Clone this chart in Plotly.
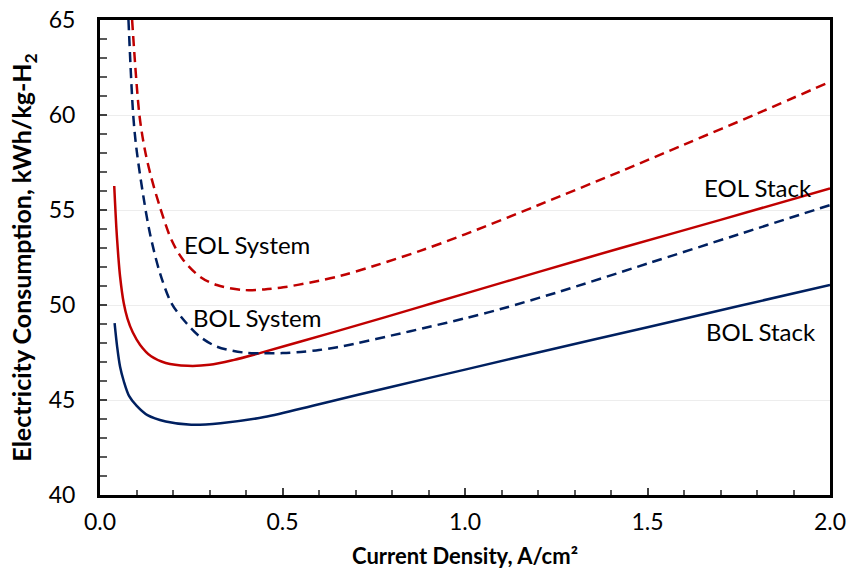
import plotly.graph_objects as go

# Current density (A/cm2) and electricity consumption (kWh/kg-H2)
bol_stack_x = [0.04, 0.047, 0.055, 0.065, 0.08, 0.1, 0.13, 0.18, 0.25, 0.33, 0.45, 0.6,
               0.8, 1.0, 1.2, 1.5, 1.75, 2.0]
bol_stack_y = [49.05, 47.8, 46.75, 46.0, 45.2, 44.7, 44.2, 43.87, 43.7, 43.78, 44.1, 44.78,
               45.7, 46.6, 47.5, 48.83, 49.95, 51.05]

eol_stack_x = [0.039, 0.045, 0.05, 0.055, 0.065, 0.075, 0.09, 0.11, 0.14, 0.18, 0.24, 0.3,
               0.365, 0.44, 0.55, 0.685, 0.877, 1.0, 1.2, 1.425, 1.7, 2.0]
eol_stack_y = [56.26, 54.0, 52.6, 51.5, 50.1, 49.3, 48.55, 47.9, 47.3, 46.95, 46.8, 46.85,
               47.1, 47.48, 48.08, 48.82, 49.9, 50.6, 51.73, 52.99, 54.48, 56.14]

bol_system_x = [0.078, 0.091, 0.1, 0.119, 0.137, 0.164, 0.196, 0.237, 0.274, 0.32, 0.393, 0.45,
                0.5, 0.55, 0.6, 0.65, 0.7, 0.8, 0.9, 1.0, 1.1, 1.25, 1.5, 1.75, 2.0]
bol_system_y = [65.0, 60.0, 58.2, 55.7, 53.75, 51.7, 50.09, 49.04, 48.33, 47.81, 47.5, 47.46,
                47.47, 47.53, 47.63, 47.78, 47.97, 48.4, 48.84, 49.3, 49.8, 50.65, 52.18, 53.72, 55.26]

eol_system_x = [0.088, 0.108, 0.123, 0.14, 0.164, 0.196, 0.228, 0.274, 0.32, 0.393, 0.45, 0.502,
                0.58, 0.662, 0.75, 0.877, 1.0, 1.2, 1.425, 1.6, 1.8, 2.0]
eol_system_y = [65.0, 60.0, 58.16, 56.75, 55.17, 53.42, 52.37, 51.49, 51.05, 50.79, 50.82, 50.93,
                51.2, 51.55, 52.05, 52.85, 53.72, 55.25, 57.02, 58.44, 60.07, 61.75]

curve_labels = ["EOL System", "BOL System", "EOL Stack", "BOL Stack"]
label_x = [0.225, 0.248, 1.648, 1.655]
label_y = [53.16, 49.35, 56.17, 48.58]

RED = "#C00000"
NAVY = "#002060"
FONT = "Lato"

fig = go.Figure()

series = [
    (bol_stack_x, bol_stack_y, NAVY, "solid", "BOL Stack"),
    (eol_stack_x, eol_stack_y, RED, "solid", "EOL Stack"),
    (bol_system_x, bol_system_y, NAVY, "10px,6px", "BOL System"),
    (eol_system_x, eol_system_y, RED, "10px,6px", "EOL System"),
]
for xs, ys, color, dash, name in series:
    fig.add_trace(go.Scatter(
        x=xs, y=ys, mode="lines", name=name,
        line=dict(color=color, width=2.5, dash=dash, shape="spline", smoothing=0.9),
        showlegend=False, hoverinfo="x+y",
    ))

for text, lx, ly in zip(curve_labels, label_x, label_y):
    fig.add_annotation(x=lx, y=ly, text=text, showarrow=False, xanchor="left", yanchor="middle",
                       font=dict(family=FONT, size=24, color="#000000"))

fig.update_xaxes(
    range=[0, 2.0], tickvals=[0, 0.5, 1.0, 1.5, 2.0], ticktext=["0.0", "0.5", "1.0", "1.5", "2.0"],
    ticks="inside", ticklen=7, tickwidth=1.5, tickcolor="#404040",
    minor=dict(dtick=0.1, ticks="inside", ticklen=5, tickwidth=1.5, tickcolor="#595959", showgrid=False),
    showline=True, linewidth=3, linecolor="#000000", mirror=True,
    showgrid=False, zeroline=False, automargin=False, ticklabelstandoff=4,
    tickfont=dict(family=FONT, size=23, color="#000000"),
    title=dict(text="<b>Current Density, A/cm²</b>", font=dict(family=FONT, size=22, color="#000000"),
               standoff=16),
)
fig.update_yaxes(
    range=[40, 65], dtick=5,
    ticks="inside", ticklen=7, tickwidth=1.5, tickcolor="#404040",
    minor=dict(dtick=1, ticks="inside", ticklen=7, tickwidth=1.5, tickcolor="#595959", showgrid=False),
    showline=True, linewidth=3, linecolor="#000000", mirror=True,
    showgrid=True, gridcolor="#EDEDED", gridwidth=1, zeroline=False,
    automargin=False, ticklabelstandoff=17,
    tickfont=dict(family=FONT, size=23, color="#000000"),
    title=dict(text="<b>Electricity Consumption, kWh/kg-H<sub>2</sub></b>",
               font=dict(family=FONT, size=25, color="#000000"), standoff=10),
)

fig.update_layout(
    width=848, height=574,
    margin=dict(l=100, r=18, t=20, b=79),
    paper_bgcolor="#FFFFFF", plot_bgcolor="#FFFFFF",
)

fig.write_html("out.html")
